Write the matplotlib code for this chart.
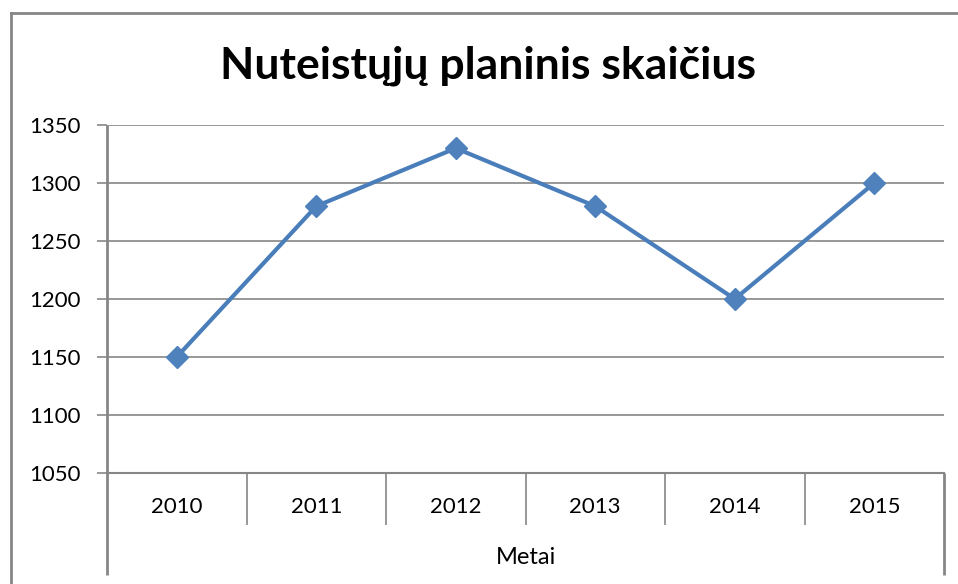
import numpy as np
from matplotlib import pyplot as plt
from matplotlib.lines import Line2D

years = ['2010', '2011', '2012', '2013', '2014', '2015']
values = [1150, 1280, 1330, 1280, 1200, 1300]
title = 'Nuteistųjų planinis skaičius'
xlabel = 'Metai'
yticks = [1050, 1100, 1150, 1200, 1250, 1300, 1350]

plt.rcParams['font.family'] = ['Lato', 'DejaVu Sans']

W, H = 958, 584
fig = plt.figure(figsize=(W / 100, H / 100), dpi=100)
left, right, top, bottom = 107, 944, 125, 473
ax = fig.add_axes([left / W, 1 - bottom / H, (right - left) / W, (bottom - top) / H])

grid = '#868686'
x = np.arange(len(years))
ax.plot(x, values, color='#4A7EBB', lw=3, marker='D', ms=11,
        markerfacecolor='#4F81BD', markeredgecolor='#4F81BD', zorder=3,
        clip_on=False)

ax.set_xlim(-0.5, len(years) - 0.5)
ax.set_ylim(yticks[0], yticks[-1])
ax.set_yticks(yticks)
ax.yaxis.grid(True, color=grid, lw=1.2)
ax.set_axisbelow(True)
for s in ['top', 'right', 'bottom', 'left']:
    ax.spines[s].set_visible(False)
ax.tick_params(axis='y', length=7, width=1.2, color=grid, pad=12, labelsize=16)
ax.set_xticks([])

# category axis drawn as a little table
xt = ax.get_xaxis_transform()
ax.plot([-0.5, len(years) - 0.5], [0, 0], color=grid, lw=1.5, transform=xt, clip_on=False)
ax.vlines(x[:-1] + 0.5, -0.149, 0, color=grid, lw=1.2, transform=xt, clip_on=False)
ax.vlines([-0.5], -0.293, 1.0, color=grid, lw=2, transform=xt, clip_on=False)
ax.vlines([len(years) - 0.5], -0.293, 0, color=grid, lw=2, transform=xt, clip_on=False)
for xi, lab in zip(x, years):
    ax.text(xi, -0.098, lab, transform=xt, ha='center', va='center', fontsize=16)
ax.text((len(years) - 1) / 2, -0.242, xlabel, transform=xt, ha='center', va='center', fontsize=17)

fig.text(488 / W, 1 - 66 / H, title, ha='center', va='center', fontsize=32, fontweight='bold')

# outer chart frame (cropped)
fig.add_artist(Line2D([11 / W, 11 / W], [0, 1 - 13 / H], color=grid, lw=2))
fig.add_artist(Line2D([11 / W, 1], [1 - 13 / H, 1 - 13 / H], color=grid, lw=2))

fig.savefig('out.png', dpi=100)
